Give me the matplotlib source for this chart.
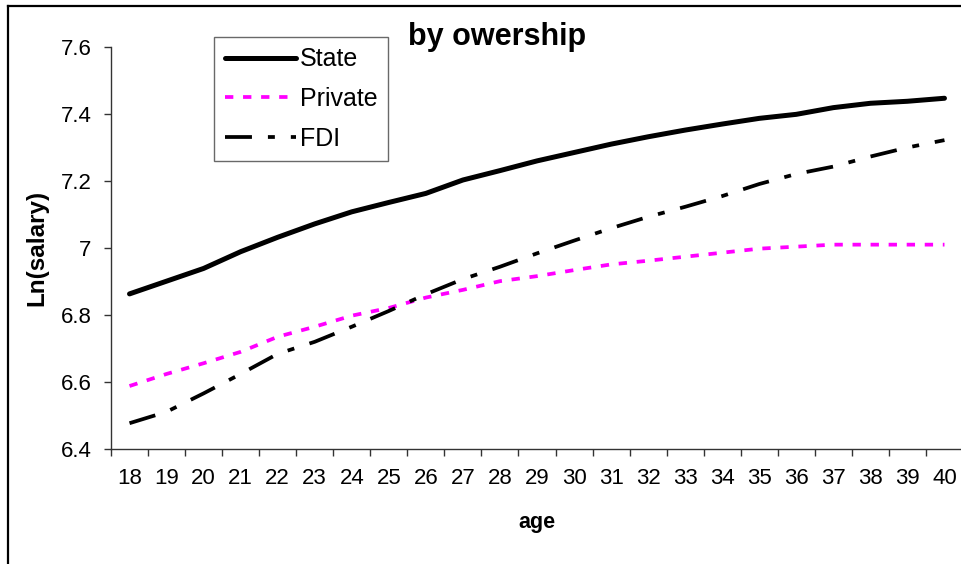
import numpy as np
import matplotlib
matplotlib.use("Agg")
from matplotlib import pyplot as plt
from matplotlib.lines import Line2D
from matplotlib.ticker import FixedLocator, FuncFormatter

plt.rcParams['font.family'] = ['Liberation Sans', 'DejaVu Sans']
plt.rcParams['lines.scale_dashes'] = False

# datos
ages = list(range(18, 41))
state = [6.863, 6.901, 6.939, 6.989, 7.032, 7.072, 7.108, 7.136, 7.163, 7.203,
         7.231, 7.260, 7.285, 7.310, 7.332, 7.352, 7.370, 7.387, 7.399, 7.419,
         7.432, 7.438, 7.447]
private = [6.588, 6.624, 6.656, 6.690, 6.735, 6.765, 6.798, 6.821, 6.852, 6.875,
           6.901, 6.916, 6.934, 6.951, 6.962, 6.974, 6.986, 6.998, 7.004, 7.010,
           7.010, 7.010, 7.010]
fdi = [6.477, 6.511, 6.566, 6.624, 6.684, 6.720, 6.765, 6.812, 6.862, 6.907,
       6.944, 6.984, 7.022, 7.059, 7.093, 7.123, 7.155, 7.191, 7.221, 7.243,
       7.273, 7.300, 7.322]
yticks = [6.4, 6.6, 6.8, 7.0, 7.2, 7.4, 7.6]

W, H = 961, 564
fig = plt.figure(figsize=(W / 100, H / 100), dpi=100)

# area del grafico (en pixeles)
left, top, bottom, right = 111, 47, 449, 963
ax = fig.add_axes([left / W, 1 - bottom / H, (right - left) / W, (bottom - top) / H])

x = np.arange(len(ages))
ax.plot(x, state, color="black", lw=3.6, solid_capstyle="round",
        solid_joinstyle="round", label="State")
ax.plot(x, private, color="#FF00FF", lw=2.7, dashes=[6.0, 7.0],
        dash_capstyle="butt", label="Private")
ax.plot(x, fdi, color="black", lw=2.7, dashes=[19.4, 11.5, 5.0, 11.5],
        dash_capstyle="butt", label="FDI")

ax.set_xlim(-0.5, len(ages) - 0.5)
ax.set_ylim(6.4, 7.6)

# eje x de categorias: marcas entre categorias, etiquetas al centro
ax.xaxis.set_major_locator(FixedLocator(x))
ax.set_xticklabels([str(a) for a in ages])
ax.xaxis.set_minor_locator(FixedLocator(np.arange(len(ages) + 1) - 0.5))
ax.tick_params(axis="x", which="major", length=0, pad=14, labelsize=16)
ax.tick_params(axis="x", which="minor", length=5, width=1, color="#333333",
               direction="out")

ax.yaxis.set_major_locator(FixedLocator(yticks))
ax.yaxis.set_major_formatter(FuncFormatter(lambda v, p: "%g" % round(v, 1)))
ax.tick_params(axis="y", length=5, width=1, color="#333333", direction="out",
               pad=9, labelsize=16)

for s in ["top", "right"]:
    ax.spines[s].set_visible(False)
for s in ["left", "bottom"]:
    ax.spines[s].set_color("#333333")
    ax.spines[s].set_linewidth(1)

ax.set_xlabel("age", fontsize=15.5, fontweight="bold", labelpad=16)
fig.text(37 / W, 1 - 248 / H, "Ln(salary)", rotation=90, fontsize=17.5,
         fontweight="bold", ha="center", va="center")

fig.text(497 / W, 1 - 45 / H, "by owership", fontsize=22, fontweight="bold",
         ha="center", va="baseline")

leg = ax.legend(loc="upper left", bbox_to_anchor=(214 / W, 1 - 37 / H),
                bbox_transform=fig.transFigure, fontsize=18, frameon=True,
                fancybox=False, handlelength=2.85, handletextpad=0.15,
                labelspacing=0.62, borderpad=0.42, borderaxespad=0)
leg.get_frame().set_edgecolor("#444444")
leg.get_frame().set_linewidth(1)

# marco exterior del grafico
fig.add_artist(Line2D([8 / W, 8 / W], [0, 1 - 6 / H], color="black", lw=1.6,
                      transform=fig.transFigure))
fig.add_artist(Line2D([8 / W, 1], [1 - 6 / H, 1 - 6 / H], color="black", lw=1.6,
                      transform=fig.transFigure))

fig.savefig("out.png", dpi=100)
